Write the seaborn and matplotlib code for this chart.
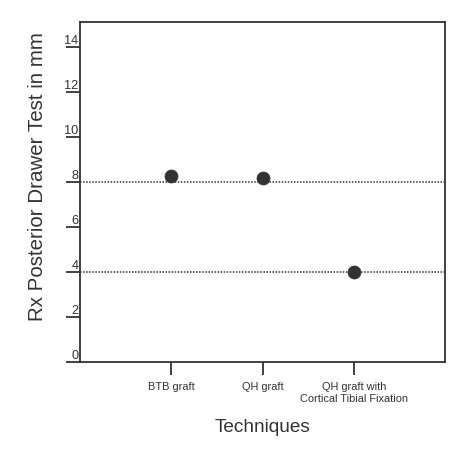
import pandas as pd
import matplotlib.pyplot as plt
import matplotlib.transforms as mtrans
import seaborn as sns

# Values
techniques = ["BTB graft", "QH graft", "QH graft with\nCortical Tibial Fixation"]
drawer_mm = [8.24, 8.16, 4.0]
ref_lines = [8, 4]
y_ticks = [0, 2, 4, 6, 8, 10, 12, 14]

df = pd.DataFrame({"Technique": techniques, "Drawer": drawer_mm})
df["pos"] = range(len(techniques))

sns.set_style("white")
plt.rcParams["font.family"] = ["Liberation Sans", "DejaVu Sans"]

fig = plt.figure(figsize=(4.77, 4.60), dpi=100)
ax = fig.add_axes([80 / 477, 1 - 363 / 460, 365 / 477, 340 / 460])

ink = "#333333"
for y in ref_lines:
    ax.axhline(y, color=ink, linestyle=(0, (1, 1)), linewidth=1.1, zorder=1)

sns.scatterplot(data=df, x="pos", y="Drawer", color=ink, s=88,
                edgecolor=ink, linewidth=0.5, zorder=3, ax=ax)

ax.set_xlim(-1, 3)
ax.set_ylim(0, 15.1)
ax.set_xticks(df["pos"])
ax.set_xticklabels(techniques, fontsize=7.9, color=ink, linespacing=1.15)
ax.set_yticks(y_ticks)
ax.set_yticklabels([str(t) for t in y_ticks], fontsize=9.2, color=ink)

for side in ax.spines.values():
    side.set_color(ink)
    side.set_linewidth(1.3)

ax.tick_params(axis="x", length=9.5, width=1.3, color=ink, pad=4.5, bottom=True)
ax.tick_params(axis="y", length=10, width=1.3, color=ink, pad=-9, left=True)
shift = mtrans.ScaledTranslation(0, 0.5 / 72, fig.dpi_scale_trans)
for lbl in ax.get_yticklabels():
    lbl.set_verticalalignment("bottom")
    lbl.set_transform(lbl.get_transform() + shift)

ax.set_xlabel("Techniques", fontsize=13.7, color=ink)
ax.set_ylabel("Rx Posterior Drawer Test in mm", fontsize=14.8, color=ink)
ax.xaxis.set_label_coords(0.5, -0.165)
ax.yaxis.set_label_coords(-0.090, 0.547)

plt.savefig("out.png", dpi=100)
